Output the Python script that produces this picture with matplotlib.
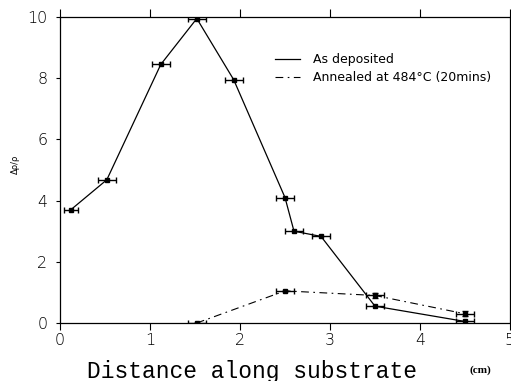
import matplotlib
matplotlib.use("Agg")
import matplotlib.pyplot as plt

# As deposited
dep_x = [0.12, 0.52, 1.12, 1.52, 1.93, 2.5, 2.6, 2.9, 3.5, 4.5]
dep_y = [3.7, 4.68, 8.45, 9.95, 7.95, 4.1, 3.0, 2.83, 0.55, 0.05]
dep_xerr = [0.08, 0.1, 0.1, 0.1, 0.1, 0.1, 0.1, 0.1, 0.1, 0.1]

# Annealed at 484 C
ann_x = [1.52, 2.5, 3.5, 4.5]
ann_y = [0.0, 1.05, 0.9, 0.3]
ann_xerr = [0.1, 0.1, 0.1, 0.1]
ann_yerr = [0.0, 0.0, 0.08, 0.08]

x_ticks = [0, 1, 2, 3, 4, 5]
y_ticks = [0, 2, 4, 6, 8, 10]

fig = plt.figure(figsize=(5.11, 3.81), dpi=100)
ax = fig.add_axes([60 / 511, 58 / 381, 450 / 511, 306 / 381])

# lines
ax.plot(dep_x, dep_y, color="black", lw=0.9, label="As deposited")
ax.plot(ann_x, ann_y, color="black", lw=0.8, ls=(0, (7, 4, 1.5, 4)),
        label="Annealed at 484°C (20mins)")

# error bars + point markers
ax.errorbar(dep_x, dep_y, xerr=dep_xerr, ls="none", color="black",
            marker="s", ms=2.5, elinewidth=1.0, capsize=2, capthick=1.0)
ax.errorbar(ann_x, ann_y, xerr=ann_xerr, yerr=ann_yerr, ls="none",
            color="black", marker="s", ms=2.5, elinewidth=1.0, capsize=2,
            capthick=1.0)

ax.set_xlim(0, 5)
ax.set_ylim(0, 10)
ax.set_xticks(x_ticks)
ax.set_yticks(y_ticks)
ax.tick_params(axis="both", direction="out", width=0.8, labelsize=11.5)
ax.tick_params(axis="y", length=3, pad=6)
ax.tick_params(axis="x", length=5, pad=2, top=True)
for t in ax.xaxis.get_major_ticks():
    t.tick2line.set_markersize(6)
for lab in ax.get_xticklabels() + ax.get_yticklabels():
    lab.set_fontweight("light")
for s in ax.spines.values():
    s.set_linewidth(0.9)

ax.set_ylabel("Δρ/ρ", fontsize=6)
ax.yaxis.set_label_coords(-40 / 450, 0.52)
fig.text(0.17, -0.004, "Distance along substrate", family="Liberation Mono",
         fontsize=16.5, ha="left", va="bottom")
fig.text(0.94, 0.015, "(cm)", family="Liberation Serif", fontweight="bold",
         fontsize=8, ha="center", va="bottom")

ax.legend(loc="upper left", bbox_to_anchor=(0.478, 0.882), frameon=False,
          fontsize=9, handlelength=2, labelspacing=0.4, handletextpad=1.0,
          borderaxespad=0, borderpad=0)

fig.savefig("out.png", dpi=100)
